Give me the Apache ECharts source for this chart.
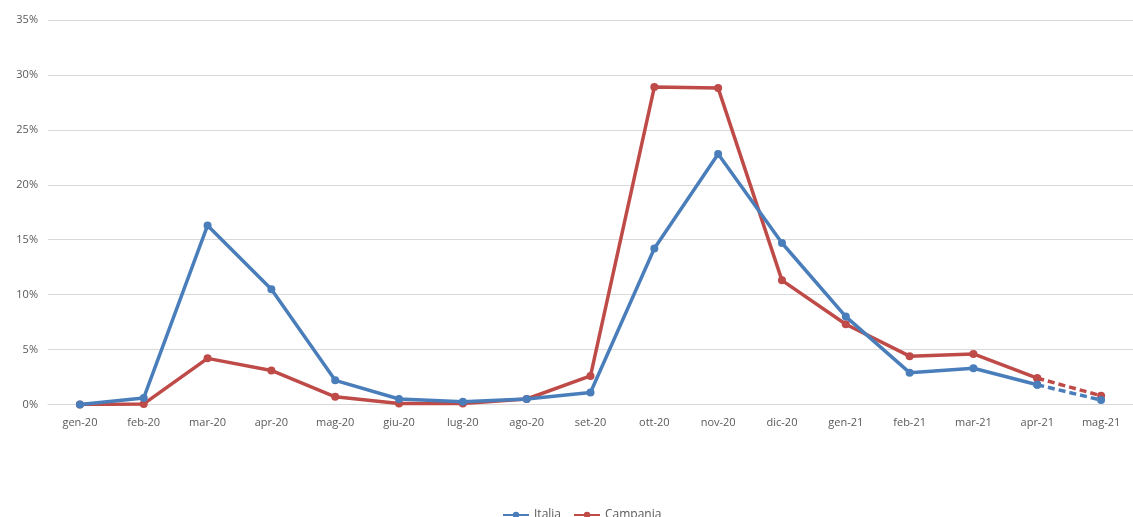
<!DOCTYPE html>
<html>
<head>
<meta charset="utf-8">
<script src="https://cdn.jsdelivr.net/npm/echarts@6/dist/echarts.min.js"></script>
<style>
    html, body { margin: 0; padding: 0; background: #fff; }
    #chart { width: 1133px; height: 517px; }
</style>
</head>
<body>
<div id="chart"></div>
<script>
// categorie (mesi)
var mesi = ['gen-20','feb-20','mar-20','apr-20','mag-20','giu-20','lug-20','ago-20','set-20',
            'ott-20','nov-20','dic-20','gen-21','feb-21','mar-21','apr-21','mag-21'];

// valori in % (l'ultimo mese è tratteggiato)
var italia   = [0, 0.6, 16.3, 10.5, 2.2, 0.5, 0.25, 0.5, 1.1, 14.2, 22.8, 14.7, 8.0, 2.9, 3.3, 1.8, 0.4];
var campania = [0, 0.05, 4.2, 3.1, 0.7, 0.1, 0.1, 0.5, 2.6, 28.9, 28.8, 11.3, 7.3, 4.4, 4.6, 2.4, 0.8];

var blu = '#4a7ebb';
var rosso = '#be4b48';

// parte continua fino a apr-21, tratteggio per l'ultimo tratto
function pieno(arr) {
    return arr.map(function(v, i) { return i < arr.length - 1 ? v : null; });
}
function tratteggio(arr) {
    return arr.map(function(v, i) { return i >= arr.length - 2 ? v : null; });
}

var chart = echarts.init(document.getElementById('chart'));

var option = {
    animation: false,
    textStyle: { fontFamily: '"Open Sans", sans-serif' },
    grid: { left: 48, top: 20, width: 1094, height: 384.5 },
    legend: {
        bottom: -9,
        left: 497,
        itemWidth: 26,
        itemHeight: 8,
        itemGap: 12,
        textStyle: { color: '#595959', fontSize: 12 },
        data: ['Italia', 'Campania']
    },
    xAxis: {
        type: 'category',
        data: mesi,
        boundaryGap: true,
        axisLine: { lineStyle: { color: '#d9d9d9', width: 1 } },
        axisTick: { show: false },
        axisLabel: { color: '#595959', fontSize: 11, margin: 13, interval: 0 }
    },
    yAxis: {
        type: 'value',
        min: 0,
        max: 35,
        interval: 5,
        axisLine: { show: false },
        axisTick: { show: false },
        axisLabel: { color: '#595959', fontSize: 11, margin: 10, formatter: '{value}%' },
        splitLine: { lineStyle: { color: '#d9d9d9', width: 1 } }
    },
    series: [
        {
            name: 'Italia',
            type: 'line',
            data: pieno(italia),
            color: blu,
            symbol: 'circle',
            symbolSize: 8,
            lineStyle: { width: 3.5 },
            z: 3
        },
        {
            name: 'Campania',
            type: 'line',
            data: pieno(campania),
            color: rosso,
            symbol: 'circle',
            symbolSize: 8,
            lineStyle: { width: 3.5 },
            z: 2
        },
        {
            name: 'Italia stima',
            type: 'line',
            data: tratteggio(italia),
            color: blu,
            symbol: 'circle',
            symbolSize: 8,
            lineStyle: { width: 3.5, type: [7, 4] },
            z: 3
        },
        {
            name: 'Campania stima',
            type: 'line',
            data: tratteggio(campania),
            color: rosso,
            symbol: 'circle',
            symbolSize: 8,
            lineStyle: { width: 3.5, type: [7, 4] },
            z: 2
        }
    ]
};

chart.setOption(option);
</script>
</body>
</html>
